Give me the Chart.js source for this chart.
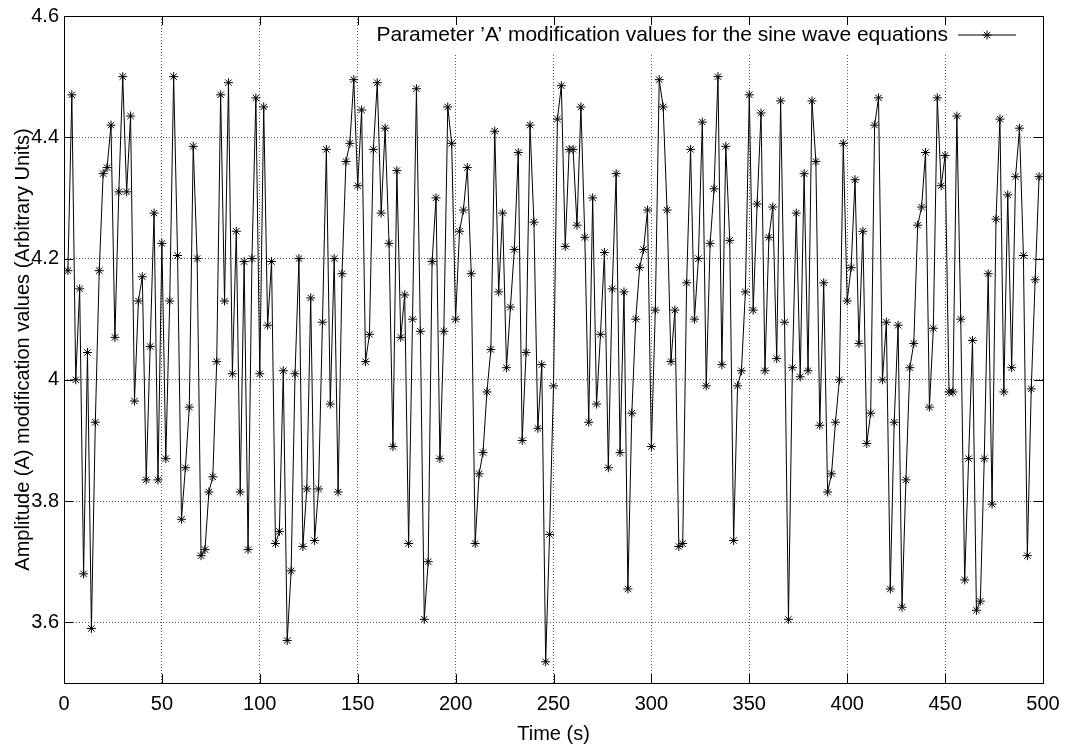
<!DOCTYPE html>
<html lang="en">
<head>
    <meta charset="utf-8">
    <title>Parameter 'A' modification values</title>
    <script src="https://cdn.jsdelivr.net/npm/chart.js@4.4.1/dist/chart.umd.min.js"></script>
    <style>
        html, body { margin: 0; padding: 0; background: #fff; }
        #wrap { width: 1067px; height: 749px; }
    </style>
</head>
<body>
<div id="wrap"><canvas id="ampChart" width="1067" height="749"></canvas></div>
<script>
    // Time axis (s) and amplitude samples
    const times = [
        2, 4, 6, 8, 10, 12, 14, 16, 18, 20, 22, 24, 26, 28, 30, 32, 34, 36, 38, 40,
        42, 44, 46, 48, 50, 52, 54, 56, 58, 60, 62, 64, 66, 68, 70, 72, 74, 76, 78, 80,
        82, 84, 86, 88, 90, 92, 94, 96, 98, 100, 102, 104, 106, 108, 110, 112, 114, 116, 118, 120,
        122, 124, 126, 128, 130, 132, 134, 136, 138, 140, 142, 144, 146, 148, 150, 152, 154, 156, 158, 160,
        162, 164, 166, 168, 170, 172, 174, 176, 178, 180, 182, 184, 186, 188, 190, 192, 194, 196, 198, 200,
        202, 204, 206, 208, 210, 212, 214, 216, 218, 220, 222, 224, 226, 228, 230, 232, 234, 236, 238, 240,
        242, 244, 246, 248, 250, 252, 254, 256, 258, 260, 262, 264, 266, 268, 270, 272, 274, 276, 278, 280,
        282, 284, 286, 288, 290, 292, 294, 296, 298, 300, 302, 304, 306, 308, 310, 312, 314, 316, 318, 320,
        322, 324, 326, 328, 330, 332, 334, 336, 338, 340, 342, 344, 346, 348, 350, 352, 354, 356, 358, 360,
        362, 364, 366, 368, 370, 372, 374, 376, 378, 380, 382, 384, 386, 388, 390, 392, 394, 396, 398, 400,
        402, 404, 406, 408, 410, 412, 414, 416, 418, 420, 422, 424, 426, 428, 430, 432, 434, 436, 438, 440,
        442, 444, 446, 448, 450, 452, 454, 456, 458, 460, 462, 464, 466, 468, 470, 472, 474, 476, 478, 480,
        482, 484, 486, 488, 490, 492, 494, 496, 498
    ];
    const amplitude = [
        4.18, 4.47, 4.00, 4.15, 3.68, 4.045, 3.59, 3.93, 4.18, 4.34, 4.35, 4.42, 4.07, 4.31, 4.50, 4.31, 4.435, 3.965, 4.13, 4.17,
        3.835, 4.055, 4.275, 3.835, 4.225, 3.87, 4.13, 4.50, 4.205, 3.77, 3.855, 3.955, 4.385, 4.20, 3.71, 3.72, 3.815, 3.84, 4.03, 4.47,
        4.13, 4.49, 4.01, 4.245, 3.815, 4.195, 3.72, 4.20, 4.465, 4.01, 4.45, 4.09, 4.195, 3.73, 3.75, 4.015, 3.57, 3.685, 4.01, 4.20,
        3.725, 3.82, 4.135, 3.735, 3.82, 4.095, 4.38, 3.96, 4.20, 3.815, 4.175, 4.36, 4.39, 4.495, 4.32, 4.445, 4.03, 4.075, 4.38, 4.49,
        4.275, 4.415, 4.225, 3.89, 4.345, 4.07, 4.14, 3.73, 4.10, 4.48, 4.08, 3.605, 3.70, 4.195, 4.30, 3.87, 4.08, 4.45, 4.39, 4.10,
        4.245, 4.28, 4.35, 4.175, 3.73, 3.845, 3.88, 3.98, 4.05, 4.41, 4.145, 4.275, 4.02, 4.12, 4.215, 4.375, 3.90, 4.045, 4.42, 4.26,
        3.92, 4.025, 3.535, 3.745, 3.99, 4.43, 4.485, 4.22, 4.38, 4.38, 4.255, 4.45, 4.235, 3.93, 4.30, 3.96, 4.075, 4.21, 3.855, 4.15,
        4.34, 3.88, 4.145, 3.655, 3.945, 4.10, 4.185, 4.215, 4.28, 3.89, 4.115, 4.495, 4.45, 4.28, 4.03, 4.115, 3.725, 3.73, 4.16, 4.38,
        4.10, 4.20, 4.425, 3.99, 4.225, 4.315, 4.50, 4.025, 4.385, 4.23, 3.735, 3.99, 4.015, 4.145, 4.47, 4.115, 4.29, 4.44, 4.015, 4.235,
        4.285, 4.035, 4.46, 4.095, 3.605, 4.02, 4.275, 4.005, 4.34, 4.015, 4.46, 4.36, 3.925, 4.16, 3.815, 3.845, 3.93, 4.00, 4.39, 4.13,
        4.185, 4.33, 4.06, 4.245, 3.895, 3.945, 4.42, 4.465, 4.00, 4.095, 3.655, 3.93, 4.09, 3.625, 3.835, 4.02, 4.06, 4.255, 4.285, 4.375,
        3.955, 4.085, 4.465, 4.32, 4.37, 3.98, 3.98, 4.435, 4.10, 3.67, 3.87, 4.065, 3.62, 3.635, 3.87, 4.175, 3.795, 4.265, 4.43, 3.98,
        4.305, 4.02, 4.335, 4.415, 4.205, 3.71, 3.985, 4.165, 4.335
    ];
    const xTicks = [0, 50, 100, 150, 200, 250, 300, 350, 400, 450, 500];
    const yTicks = [3.6, 3.8, 4.0, 4.2, 4.4, 4.6];
    const seriesLabel = 'Parameter \u2019A\u2019 modification values for the sine wave equations';

    const FONT = "'Liberation Sans', Arial, sans-serif";
    const FSIZE = 20;
    const KEY_FSIZE = 21;

    function drawStar(ctx, x, y, r) {
        ctx.beginPath();
        ctx.moveTo(x - r, y); ctx.lineTo(x + r, y);
        ctx.moveTo(x, y - r); ctx.lineTo(x, y + r);
        const d = r * 0.7071;
        ctx.moveTo(x - d, y - d); ctx.lineTo(x + d, y + d);
        ctx.moveTo(x - d, y + d); ctx.lineTo(x + d, y - d);
        ctx.stroke();
    }

    // white box behind the key, like gnuplot's key area
    const keyBox = {
        id: 'keyBox',
        beforeDatasetsDraw(chart) {
            const { ctx, chartArea } = chart;
            ctx.save();
            ctx.font = KEY_FSIZE + 'px ' + FONT;
            const w = ctx.measureText(seriesLabel).width;
            ctx.fillStyle = '#fff';
            ctx.fillRect(chartArea.right - 100 - w, chartArea.top + 1, w + 98, 36);
            ctx.restore();
        },
        afterDraw(chart) {
            const { ctx, chartArea } = chart;
            const y = chartArea.top + 19;
            ctx.save();
            ctx.font = KEY_FSIZE + 'px ' + FONT;
            ctx.fillStyle = '#000';
            ctx.textAlign = 'right';
            ctx.textBaseline = 'middle';
            ctx.fillText(seriesLabel, chartArea.right - 95, y);
            ctx.strokeStyle = '#000';
            ctx.lineWidth = 1;
            ctx.beginPath();
            ctx.moveTo(chartArea.right - 85, y);
            ctx.lineTo(chartArea.right - 27, y);
            ctx.stroke();
            drawStar(ctx, chartArea.right - 56, y, 4.5);
            ctx.restore();
        }
    };

    // border with inward tick marks on all four sides
    const frame = {
        id: 'frame',
        afterDraw(chart) {
            const { ctx, chartArea: a, scales } = chart;
            ctx.save();
            ctx.strokeStyle = '#000';
            ctx.lineWidth = 1;
            ctx.strokeRect(a.left + 0.5, a.top + 0.5, a.right - a.left, a.bottom - a.top);
            ctx.beginPath();
            xTicks.forEach(v => {
                const px = Math.round(scales.x.getPixelForValue(v)) + 0.5;
                ctx.moveTo(px, a.bottom); ctx.lineTo(px, a.bottom - 9);
                ctx.moveTo(px, a.top); ctx.lineTo(px, a.top + 9);
            });
            yTicks.forEach(v => {
                const py = Math.round(scales.y.getPixelForValue(v)) + 0.5;
                ctx.moveTo(a.left, py); ctx.lineTo(a.left + 9, py);
                ctx.moveTo(a.right, py); ctx.lineTo(a.right - 9, py);
            });
            ctx.stroke();
            ctx.restore();
        }
    };

    const ctx = document.getElementById('ampChart').getContext('2d');
    const ampChart = new Chart(ctx, {
        type: 'line',
        data: {
            datasets: [{
                label: seriesLabel,
                data: times.map((t, i) => ({ x: t, y: amplitude[i] })),
                borderColor: '#000',
                backgroundColor: '#000',
                borderWidth: 1,
                pointStyle: 'star',
                pointRadius: 4.5,
                pointBorderWidth: 1,
                pointBorderColor: '#000',
                tension: 0,
                fill: false
            }]
        },
        options: {
            responsive: false,
            animation: false,
            devicePixelRatio: 1,
            layout: { padding: { top: 16, right: 24, left: 0, bottom: 0 } },
            plugins: {
                legend: { display: false },
                tooltip: { enabled: false }
            },
            scales: {
                x: {
                    type: 'linear',
                    min: 0,
                    max: 500,
                    afterBuildTicks: axis => { axis.ticks = xTicks.map(v => ({ value: v })); },
                    afterFit: axis => { axis.height = 66; axis.paddingLeft = 0; axis.paddingRight = 0; },
                    border: { display: false, dash: [1, 2] },
                    grid: { color: '#555', drawTicks: false, lineWidth: 1 },
                    ticks: { color: '#000', padding: 9, maxRotation: 0, font: { family: FONT, size: FSIZE } },
                    title: { display: true, text: 'Time (s)', color: '#000', padding: { top: 0, bottom: 3 }, font: { family: FONT, size: FSIZE } }
                },
                y: {
                    min: 3.5,
                    max: 4.6,
                    afterBuildTicks: axis => { axis.ticks = yTicks.map(v => ({ value: v })); },
                    afterFit: axis => { axis.width = 64; axis.paddingTop = 0; axis.paddingBottom = 0; },
                    border: { display: false, dash: [1, 2] },
                    grid: { color: '#555', drawTicks: false, lineWidth: 1 },
                    ticks: {
                        color: '#000', padding: 5, font: { family: FONT, size: FSIZE },
                        callback: v => String(+v.toFixed(1))
                    },
                    title: { display: true, text: 'Amplitude (A) modification values (Arbitrary Units)', color: '#000', padding: { top: 11, bottom: 0 }, font: { family: FONT, size: FSIZE } }
                }
            }
        },
        plugins: [keyBox, frame]
    });
</script>
</body>
</html>
